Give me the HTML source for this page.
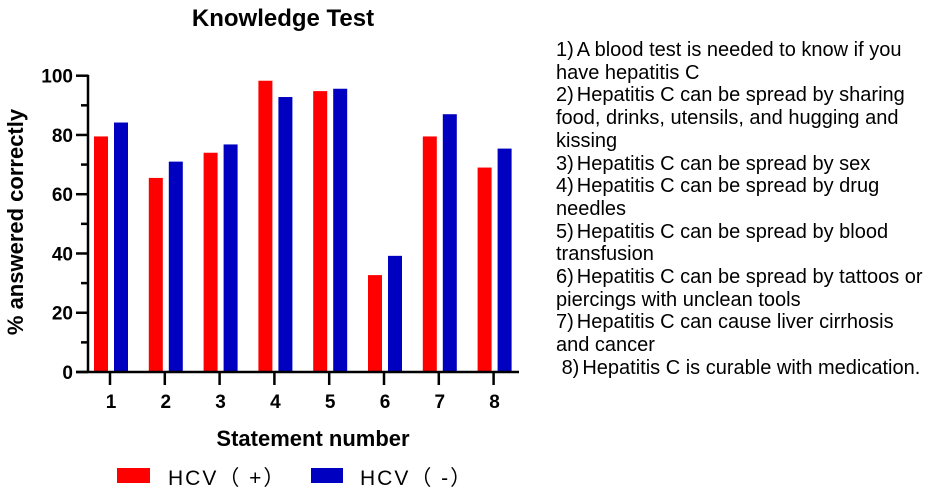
<!DOCTYPE html>
<html><head><meta charset="utf-8"><style>
body{margin:0;background:#fff;width:936px;height:491px;overflow:hidden;font-family:"Liberation Sans","Noto Sans CJK SC",sans-serif}
#notes{position:absolute;left:556px;top:39px;font-size:20px;line-height:22.7px;color:#000;white-space:nowrap;letter-spacing:0px}
#notes b{font-weight:normal;margin-right:3px}
</style></head><body>
<svg id="chart" width="936" height="491" style="position:absolute;left:0;top:0"></svg>
<div id="notes">
<b>1)</b>A blood test is needed to know if you<br>have hepatitis C<br>
<b>2)</b>Hepatitis C can be spread by sharing<br>food, drinks, utensils, and hugging and<br>kissing<br>
<b>3)</b>Hepatitis C can be spread by sex<br>
<b>4)</b>Hepatitis C can be spread by drug<br>needles<br>
<b>5)</b>Hepatitis C can be spread by blood<br>transfusion<br>
<b>6)</b>Hepatitis C can be spread by tattoos or<br>piercings with unclean tools<br>
<b>7)</b>Hepatitis C can cause liver cirrhosis<br>and cancer<br>
&nbsp;<b>8)</b>Hepatitis C is curable with medication.
</div>
<script>
const categories=["1","2","3","4","5","6","7","8"];
const hcvPos=[79.5,65.5,74,98.3,94.8,32.7,79.5,69];
const hcvNeg=[84.2,71,76.8,92.8,95.6,39.2,87,75.4];
const yTicks=[0,20,40,60,80,100];
const NS="http://www.w3.org/2000/svg";
const svg=document.getElementById('chart');
const y0=372,y100=75.7,x0=110,dx=54.8;
const Y=v=>y0-(y0-y100)*v/100;
const X=i=>x0+i*dx;
function mk(t,a,txt){const e=document.createElementNS(NS,t);for(const k in a)e.setAttribute(k,a[k]);if(txt!=null)e.textContent=txt;svg.appendChild(e);return e;}
let e;
e=mk('text',{x:283,y:26,'text-anchor':'middle','font-size':24,'font-weight':'bold'},'Knowledge Test');


categories.forEach((c,i)=>{
 e=mk('rect',{x:X(i)-16,y:Y(hcvPos[i]),width:14,height:y0-Y(hcvPos[i]),fill:'#ff0000'});
 
 
 e=mk('rect',{x:X(i)+4,y:Y(hcvNeg[i]),width:14,height:y0-Y(hcvNeg[i]),fill:'#0000c0'});
 
 
 e=mk('line',{x1:X(i),x2:X(i),y1:y0,y2:y0+13,stroke:'#000','stroke-width':2.5});
 
 
 e=mk('text',{x:X(i)+1,y:408,'text-anchor':'middle','font-size':19,'font-weight':'bold'},c);
 
 
});
e=mk('line',{x1:88,x2:88,y1:Y(100)-1,y2:y0+1,stroke:'#000','stroke-width':2.5});


e=mk('line',{x1:76,x2:519,y1:y0,y2:y0,stroke:'#000','stroke-width':2.5});


for(let v=0;v<=100;v+=10){
 const major=yTicks.includes(v);
 e=mk('line',{x1:major?76:81,x2:88,y1:Y(v),y2:Y(v),stroke:'#000','stroke-width':2.5});
 
 
}
yTicks.forEach(v=>{
 e=mk('text',{x:73,y:Y(v)+7,'text-anchor':'end','font-size':19,'font-weight':'bold'},v);
 
 
});
e=mk('text',{x:0,y:0,transform:'translate(23,222) rotate(-90)','text-anchor':'middle','font-size':22,'font-weight':'bold'},'% answered correctly');


e=mk('text',{x:313,y:446,'text-anchor':'middle','font-size':22,'font-weight':'bold'},'Statement number');


e=mk('rect',{x:117,y:468,width:33,height:15,fill:'#ff0000'});


e=mk('text',{x:168,y:485,'font-size':21,'letter-spacing':'2'},'HCV（ +）');


e=mk('rect',{x:311,y:468,width:32,height:15,fill:'#0000c0'});


e=mk('text',{x:360,y:485,'font-size':21,'letter-spacing':'2'},'HCV（ -）');


</script>
</body></html>
